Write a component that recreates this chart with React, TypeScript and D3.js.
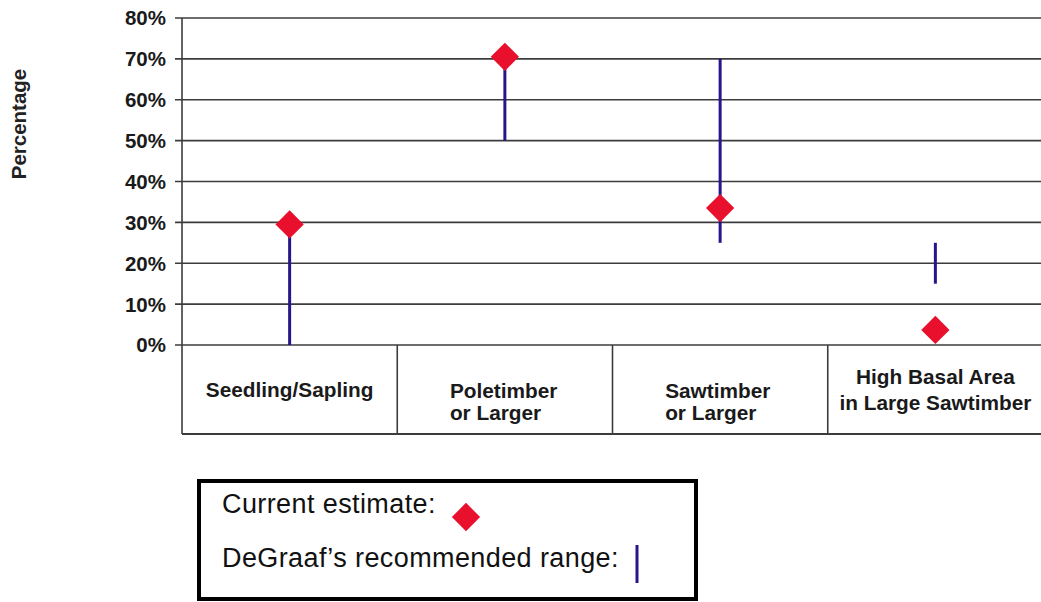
import React from 'react';
import * as d3 from 'd3';

// size classes shown in the chart
const categories = ['Seedling/Sapling', 'Poletimber or Larger', 'Sawtimber or Larger', 'High Basal Area in Large Sawtimber'];
const categoryLines = [
  ['Seedling/Sapling'],
  ['Poletimber', 'or Larger'],
  ['Sawtimber', 'or Larger'],
  ['High Basal Area', 'in Large Sawtimber'],
];
// current estimate (%)
const currentEstimate = [29.5, 70.5, 33.5, 3.7];
// DeGraaf's recommended range (%)
const rangeLow = [0, 50, 25, 15];
const rangeHigh = [30, 70, 70, 25];
const yTicks = [0, 10, 20, 30, 40, 50, 60, 70, 80];

const W = 1041;
const H = 602;
const margin = { top: 18, right: -2, bottom: 257, left: 182 };
const tableBottom = 434;

const RED = '#e8102c';
const BLUE = '#26168c';
const GRID = '#3c3c3c';
const FONT = 'Arial, "Liberation Sans", Helvetica, sans-serif';

const diamond = d3.symbol().type(d3.symbolSquare).size(400);

export default function App() {
  const x = d3.scaleBand<string>()
    .domain(categories)
    .range([margin.left, W - margin.right])
    .padding(0);

  const y = d3.scaleLinear()
    .domain([0, 80])
    .range([H - margin.bottom, margin.top]);

  const cx = (c: string) => (x(c) || 0) + x.bandwidth() / 2;
  const y0 = y(0);

  return (
    <svg width={W} height={H} style={{ position: 'absolute', left: 0, top: 0, background: '#fff', fontFamily: FONT }}>
      {/* y axis title */}
      <text
        transform={`translate(26,124) rotate(-90)`}
        textAnchor="middle"
        fontSize={20.5}
        fontWeight="bold"
        fill="#222"
      >
        Percentage
      </text>

      {/* grid + ticks */}
      {yTicks.map(t => (
        <g key={t}>
          <line x1={margin.left - 7} x2={W} y1={y(t)} y2={y(t)} stroke={GRID} strokeWidth={1.6} />
          <text x={166} y={y(t)} dy="0.36em" textAnchor="end" fontSize={20.5} fontWeight="bold" fill="#1a1a1a">
            {t}%
          </text>
        </g>
      ))}

      {/* axis line down through the table */}
      <line x1={margin.left} x2={margin.left} y1={margin.top} y2={tableBottom} stroke={GRID} strokeWidth={1.6} />

      {/* category table */}
      <line x1={margin.left} x2={W} y1={tableBottom} y2={tableBottom} stroke={GRID} strokeWidth={1.8} />
      {categories.slice(1).map(c => (
        <line key={c} x1={x(c)} x2={x(c)} y1={y0} y2={tableBottom} stroke={GRID} strokeWidth={1.6} />
      ))}
      {categories.map((c, i) => {
        const lines = categoryLines[i];
        const leftAligned = lines.length === 2 && lines[1].startsWith('or');
        const single = lines.length === 1;
        const startY = single ? 397 : leftAligned ? 398 : 384;
        const lineGap = leftAligned ? 22 : 26;
        const tx = leftAligned ? cx(c) - 55 : cx(c);
        return (
          <text
            key={c}
            x={tx}
            y={startY}
            textAnchor={leftAligned ? 'start' : 'middle'}
            fontSize={20.8}
            fontWeight="bold"
            fill="#1a1a1a"
          >
            {lines.map((l, j) => (
              <tspan key={j} x={tx} dy={j === 0 ? 0 : lineGap}>{l}</tspan>
            ))}
          </text>
        );
      })}

      {/* recommended ranges */}
      {categories.map((c, i) => (
        <line key={c} x1={cx(c)} x2={cx(c)} y1={y(rangeLow[i])} y2={y(rangeHigh[i])} stroke={BLUE} strokeWidth={3} />
      ))}

      {/* current estimates */}
      {categories.map((c, i) => (
        <path
          key={c}
          d={diamond() || ''}
          transform={`translate(${cx(c)},${y(currentEstimate[i])}) rotate(45)`}
          fill={RED}
        />
      ))}

      {/* legend */}
      <rect x={199} y={481} width={497} height={118} fill="#fff" stroke="#000" strokeWidth={4} />
      <text x={222} y={513} fontSize={27} letterSpacing={0.4} fill="#111">Current estimate:</text>
      <path d={diamond() || ''} transform="translate(466,517) rotate(45)" fill={RED} />
      <text x={222} y={567} fontSize={27} letterSpacing={0.4} fill="#111">DeGraaf’s recommended range:</text>
      <line x1={637} x2={637} y1={545} y2={583} stroke={BLUE} strokeWidth={3} />
    </svg>
  );
}
